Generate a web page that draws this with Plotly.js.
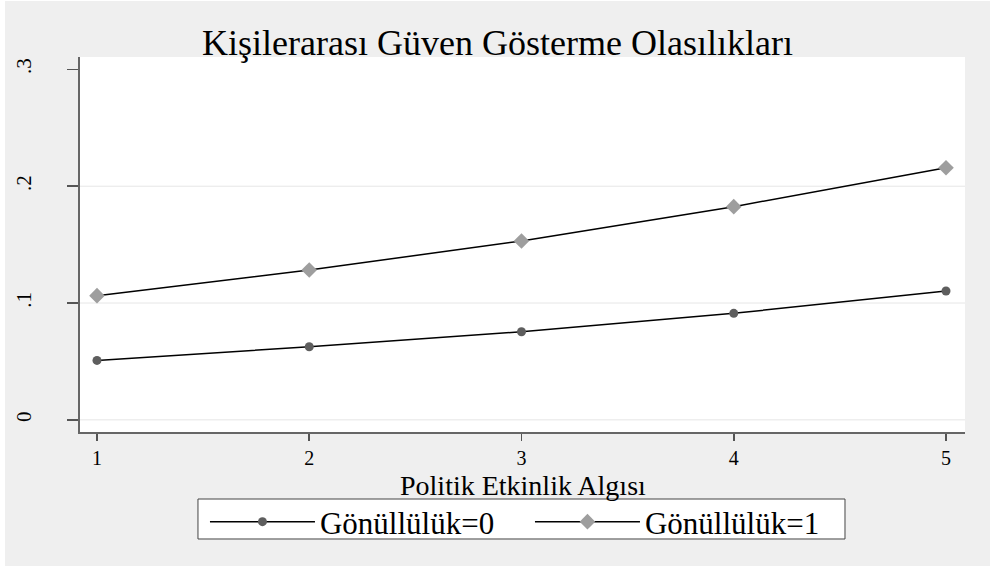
<!DOCTYPE html>
<html>
<head>
<meta charset="utf-8">
<script src="https://cdn.plot.ly/plotly-3.0.1.min.js"></script>
<style>
html,body{margin:0;padding:0;background:#ffffff;}
#chart{position:absolute;left:5px;top:1px;width:985px;height:565px;}
</style>
</head>
<body>
<div id="chart"></div>
<script>
// Data
const xValues = [1, 2, 3, 4, 5];
const seriesNames = ["Gönüllülük=0", "Gönüllülük=1"];
const gonullu0 = [0.0509, 0.0626, 0.0754, 0.0912, 0.1103];
const gonullu1 = [0.1063, 0.1283, 0.1531, 0.1825, 0.2158];
const yTickVals = [0, 0.1, 0.2, 0.3];
const yTickText = ["0", ".1", ".2", ".3"];
const xTickVals = [1, 2, 3, 4, 5];
const xTickText = ["1", "2", "3", "4", "5"];
const gridVals = [0, 0.1, 0.2];
const titleText = "Kişilerarası Güven Gösterme Olasılıkları";
const xTitleText = "Politik Etkinlik Algısı";

const FONT = "Liberation Serif, Times New Roman, serif";

const traces = [
  {
    x: xValues, y: gonullu0, name: seriesNames[0], type: "scatter", mode: "lines+markers",
    line: {color: "#000000", width: 1.5},
    marker: {symbol: "circle", size: 9, color: "#5e5e5e"}
  },
  {
    x: xValues, y: gonullu1, name: seriesNames[1], type: "scatter", mode: "lines+markers",
    line: {color: "#000000", width: 1.5},
    marker: {symbol: "diamond", size: 12, color: "#9e9e9e"}
  }
];

const shapes = gridVals.map(v => ({
  type: "line", xref: "paper", yref: "y", x0: 0, x1: 1, y0: v, y1: v,
  line: {color: "#e6e6e6", width: 1}, layer: "below"
}));
// legend frame (white box with thin border)
shapes.push({
  type: "rect", xref: "paper", yref: "paper",
  x0: 0.1333, x1: 0.8644, y0: -0.2853, y1: -0.1787,
  fillcolor: "#ffffff", line: {color: "#444", width: 1}, layer: "above"
});

const layout = {
  width: 985, height: 565,
  paper_bgcolor: "#efefef", plot_bgcolor: "#ffffff",
  margin: {l: 75, r: 25, t: 56, b: 134},
  font: {family: FONT, color: "#000000", size: 20},
  title: {text: titleText, font: {family: FONT, size: 36, color: "#000"},
          x: 0.5, xref: "container", xanchor: "center", y: 0.927, yref: "container", yanchor: "middle"},
  xaxis: {
    range: [0.92, 5.0895], tickvals: xTickVals, ticktext: xTickText,
    ticks: "outside", ticklen: 7, tickwidth: 1.5, tickcolor: "#555",
    showline: true, linecolor: "#666", linewidth: 2, mirror: false,
    showgrid: false, zeroline: false,
    tickfont: {family: FONT, size: 20},
    automargin: false
  },
  yaxis: {
    range: [-0.0104, 0.3106], tickvals: yTickVals, ticktext: yTickText,
    ticks: "outside", ticklen: 11, tickwidth: 1.5, tickcolor: "#555",
    showline: true, linecolor: "#666", linewidth: 2,
    showgrid: false, zeroline: false, tickangle: -90,
    ticklabelstandoff: 28,
    tickfont: {family: FONT, size: 21},
    automargin: false
  },
  annotations: [{
    text: xTitleText, xref: "paper", yref: "paper", x: 0.5, y: -0.144,
    xanchor: "center", yanchor: "middle", showarrow: false,
    font: {family: FONT, size: 28, color: "#000"}
  }],
  shapes: shapes,
  showlegend: true,
  legend: {
    orientation: "h", x: 0.1412, xanchor: "left", y: -0.168, yanchor: "top",
    bgcolor: "rgba(0,0,0,0)", borderwidth: 0,
    font: {family: FONT, size: 31}, itemwidth: 105, entrywidth: 205,
    itemclick: false
  }
};

Plotly.newPlot("chart", traces, layout, {displayModeBar: false, staticPlot: true});
</script>
</body>
</html>
